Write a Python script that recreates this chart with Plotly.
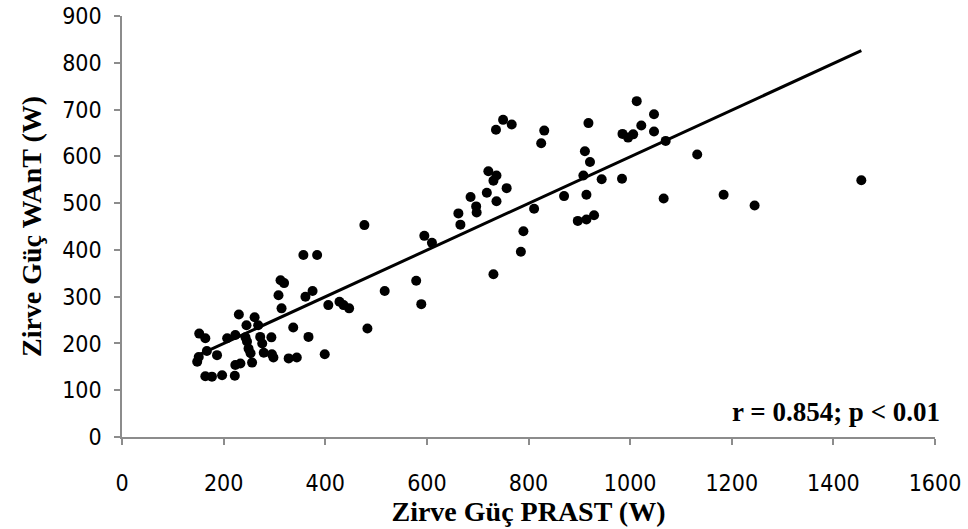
import plotly.graph_objects as go

# Peak power PRAST (W) vs peak power WAnT (W)
prast_w = [357, 384, 312, 319, 308, 361, 375, 314, 406, 428, 436, 447, 230, 261, 245, 268, 337,
           152, 164, 207, 223, 243, 246, 272, 276, 294, 367, 167, 187, 249, 253, 279, 295, 298,
           151, 148, 328, 344, 399, 256, 223, 233, 164, 177, 197, 222,
           517, 579, 589, 610, 595, 731, 483, 477, 662, 666, 697, 698, 737, 686, 811, 790, 785,
           897, 914, 929, 870, 1066,
           750, 767, 736, 831, 825, 918, 911, 921, 721, 737, 731, 757, 718, 908, 914, 944, 984,
           1013, 1047, 1022, 1047, 985, 996, 1006, 1070, 1132, 1184, 1245, 1455]
want_w = [389, 389, 335, 329, 303, 300, 312, 275, 282, 289, 282, 275, 262, 256, 239, 239, 234,
          221, 211, 211, 218, 213, 204, 214, 200, 213, 214, 184, 175, 189, 179, 180, 177, 170,
          171, 161, 168, 170, 177, 159, 154, 157, 130, 129, 132, 131,
          312, 334, 284, 415, 430, 348, 232, 453, 478, 454, 493, 480, 504, 513, 488, 440, 396,
          462, 465, 474, 515, 510,
          678, 668, 657, 655, 628, 671, 611, 588, 568, 559, 548, 532, 522, 559, 518, 551, 552,
          718, 690, 666, 653, 648, 640, 647, 633, 604, 518, 495, 549]

# Trend line end points
trend_x = [148, 1455]
trend_y = [174, 826]

x_ticks = [0, 200, 400, 600, 800, 1000, 1200, 1400, 1600]
y_ticks = [0, 100, 200, 300, 400, 500, 600, 700, 800, 900]

x_title = "Zirve Güç PRAST (W)"
y_title = "Zirve Güç WAnT (W)"
stat_text = "r = 0.854; p < 0.01"

tick_font = dict(family="Liberation Sans Narrow, Arial Narrow, DejaVu Sans Condensed, sans-serif",
                 size=23, color="black")
title_font = dict(family="Liberation Serif, Times New Roman, serif", size=28, color="black")
axis_grey = "#8c8c8c"

fig = go.Figure()
fig.add_trace(go.Scatter(x=trend_x, y=trend_y, mode="lines",
                         line=dict(color="black", width=3), hoverinfo="skip", showlegend=False))
fig.add_trace(go.Scatter(x=prast_w, y=want_w, mode="markers",
                         marker=dict(color="black", size=10, line=dict(width=0)), showlegend=False))

fig.update_layout(
    width=968, height=529,
    margin=dict(l=121.5, r=32.5, t=15.5, b=92),
    paper_bgcolor="white", plot_bgcolor="white",
    xaxis=dict(range=[0, 1600], tickvals=x_ticks, ticktext=[str(v) for v in x_ticks],
               automargin=False,
               showgrid=False, zeroline=False, showline=True, linecolor=axis_grey, linewidth=1.5,
               ticks="outside", ticklen=6, tickcolor=axis_grey, tickwidth=1.5,
               tickfont=tick_font, ticklabelstandoff=19,
               title=dict(text="<b>" + x_title + "</b>", font=title_font, standoff=2)),
    yaxis=dict(range=[0, 900], tickvals=y_ticks, ticktext=[str(v) for v in y_ticks],
               automargin=False,
               showgrid=False, zeroline=False, showline=True, linecolor=axis_grey, linewidth=1.5,
               ticks="outside", ticklen=6, tickcolor=axis_grey, tickwidth=1.5,
               tickfont=tick_font, ticklabelstandoff=8,
               title=dict(text="<b>" + y_title + "</b>", font=title_font, standoff=12)),
    annotations=[dict(text="<b>" + stat_text + "</b>", xref="paper", yref="paper",
                      x=1.0092, y=0.06, xanchor="right", yanchor="middle",
                      showarrow=False, font=dict(family=title_font["family"], size=27, color="black"))],
)

fig.write_html("out.html")
